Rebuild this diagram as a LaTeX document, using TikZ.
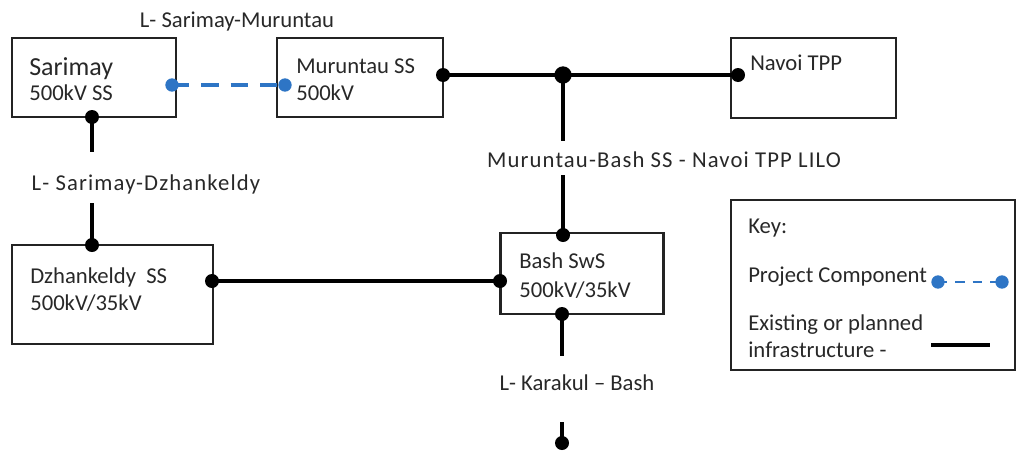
\documentclass[tikz,border=0pt]{standalone}
\usepackage{fontspec}
\setmainfont{Carlito}
\usetikzlibrary{calc}
\definecolor{pblue}{RGB}{46,117,197}
\definecolor{txt}{RGB}{40,40,40}
\definecolor{edge}{RGB}{35,35,35}
\newcommand{\fsz}{\fontsize{17}{20}\selectfont}
\tikzset{
  box/.style={draw=edge, line width=1.6pt, fill=white, inner sep=0pt},
  lbl/.style={text=txt, font=\fsz, inner sep=0pt, anchor=base west},
  clbl/.style={text=txt, font=\fsz\addfontfeatures{LetterSpace=5}, inner sep=0pt, anchor=base},
  multi/.style={text=txt, inner sep=0pt, align=left, anchor=base west},
  line/.style={line width=2.5pt, black},
  pline/.style={line width=3pt, pblue, dash pattern=on 13pt off 9pt},
  bdot/.style={circle, fill=black, inner sep=0pt, minimum size=10.5pt},
  jdot/.style={circle, fill=black, inner sep=0pt, minimum size=13pt},
  udot/.style={circle, fill=pblue, inner sep=0pt, minimum size=10pt},
}
\begin{document}
\begin{tikzpicture}[x=0.75pt, y=-0.75pt]
\useasboundingbox (0,0) rectangle (1020,450);
% boxes
\node (sar) [box, minimum width=164*0.75pt, minimum height=79*0.75pt] at (94,77.5) {};
\node (mur) [box, minimum width=166*0.75pt, minimum height=79*0.75pt] at (360,77.5) {};
\node (nav) [box, minimum width=165*0.75pt, minimum height=80*0.75pt] at (813.5,78) {};
\node (dzh) [box, minimum width=201*0.75pt, minimum height=99*0.75pt] at (112.5,294.5) {};
\node (bash) [box, minimum width=163*0.75pt, minimum height=81*0.75pt] at (582,273.5) {};
\node (key) [box, minimum width=284*0.75pt, minimum height=170*0.75pt] at (873,285) {};
% box texts (anchored at the baseline of their last line)
\node (sart) [multi, font=\fontsize{17}{18.75}\selectfont] at (29,100) {{\fontsize{19.5}{18.75}\selectfont Sarimay}\\500kV SS};
\node (murt) [multi, font=\fontsize{17}{20.25}\selectfont] at (296,100) {Muruntau SS\\500kV};
\node (navt) [lbl] at (750,70) {Navoi TPP};
\node (dzht) [multi, font=\fontsize{17}{20.25}\selectfont] at (30,310) {Dzhankeldy\ \ SS\\500kV/35kV};
\node (basht) [multi, font=\fontsize{17}{21.75}\selectfont] at (519,297) {Bash SwS\\500kV/35kV};
% line labels
\node (lsm) [lbl, anchor=base] at (237,27) {L- Sarimay-Muruntau};
\node (lsd) [clbl] at (146,190) {L- Sarimay-Dzhankeldy};
\node (lilo) [clbl] at (664,167) {Muruntau-Bash SS - Navoi TPP LILO};
\node (lkb) [lbl, anchor=base] at (577,390) {L- Karakul -- Bash};
% key texts
\node (k1) [lbl] at (748,233) {Key:};
\node (k2) [lbl] at (748,282) {Project Component};
\node (k3) [multi, font=\fontsize{17}{20.25}\selectfont] at (748,357) {Existing or planned\\infrastructure -};
% connection points
\coordinate (sarE) at (172,85);
\coordinate (murW) at (285,85);
\coordinate (murE) at (443,75);
\coordinate (junc) at (563,75);
\coordinate (navW) at (738,75);
\coordinate (sarS) at (92,117);
\coordinate (sarL) at (92,152);
\coordinate (dzhL) at (92,203);
\coordinate (dzhN) at (92,245);
\coordinate (jL) at (563,141);
\coordinate (bashL) at (563,175);
\coordinate (bashN) at (563,235);
\coordinate (dzhE) at (212,281);
\coordinate (bashW) at (500,281);
\coordinate (bashS) at (562,314);
\coordinate (bashD) at (562,356);
\coordinate (karT) at (562,422);
\coordinate (karB) at (562,443);
\coordinate (kp1) at (938,282);
\coordinate (kp2) at (1002,282);
\coordinate (ke1) at (931,345);
\coordinate (ke2) at (990,345);
% connectors
\draw[pline] (sarE) -- (murW);
\draw[line] (murE) -- (junc) -- (navW);
\draw[line] (sarS) -- (sarL);
\draw[line] (dzhL) -- (dzhN);
\draw[line] (junc) -- (jL);
\draw[line] (bashL) -- (bashN);
\draw[line] (dzhE) -- (bashW);
\draw[line] (bashS) -- (bashD);
\draw[line] (karT) -- (karB);
\draw[pblue, line width=2.2pt, dash pattern=on 7pt off 6pt] (kp1) -- (kp2);
\draw[line] (ke1) -- (ke2);
% dots
\node[udot] at (sarE) {};
\node[udot] at (murW) {};
\node[udot] at (kp1) {};
\node[udot] at (kp2) {};
\node[bdot] at (murE) {};
\node[jdot] at (junc) {};
\node[bdot] at (navW) {};
\node[bdot] at (sarS) {};
\node[bdot] at (dzhN) {};
\node[bdot] at (bashN) {};
\node[bdot] at (dzhE) {};
\node[bdot] at (bashW) {};
\node[bdot] at (bashS) {};
\node[bdot] at (karB) {};
\end{tikzpicture}
\end{document}
